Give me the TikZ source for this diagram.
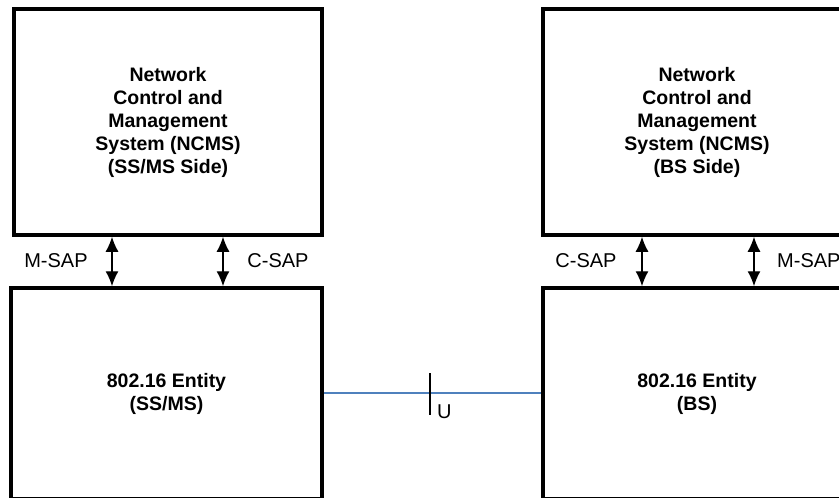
\documentclass[tikz,border=0pt]{standalone}
\usepackage{fontspec}
\setmainfont{Liberation Sans}
\usetikzlibrary{arrows.meta}

\definecolor{linkblue}{RGB}{79,129,189}

\begin{document}
\begin{tikzpicture}[x=1pt,y=-1pt,
    unit/.style={draw,line width=3.5pt,align=center,inner sep=0pt,
      font=\fontsize{19.5}{23}\selectfont\bfseries},
    sap/.style={line width=1.4pt,{Latex[length=15pt,width=13pt]}-{Latex[length=15pt,width=13pt]}},
    saplabel/.style={inner sep=0pt,font=\fontsize{20}{24}\selectfont}]
  \clip (0,0) rectangle (839,498);
  % NCMS boxes
  \node[unit,minimum width=308pt,minimum height=226pt] (ncmsL) at (168,122)
    {Network\\Control and\\Management\\System (NCMS)\\(SS/MS Side)};
  \node[unit,minimum width=308pt,minimum height=226pt] (ncmsR) at (697,122)
    {Network\\Control and\\Management\\System (NCMS)\\(BS Side)};
  % 802.16 entities
  \node[unit,minimum width=311pt,minimum height=211pt] (entL) at (166.5,393.5)
    {802.16 Entity\\(SS/MS)};
  \node[unit,minimum width=308pt,minimum height=211pt] (entR) at (697,393.5)
    {802.16 Entity\\(BS)};
  % service access points
  \node[saplabel] (msapL) at (56,261) {M-SAP};
  \node[saplabel] (csapL) at (278,261) {C-SAP};
  \node[saplabel] (csapR) at (586,261) {C-SAP};
  \node[saplabel,anchor=west] (msapR) at (777,261) {M-SAP};
  \coordinate (xmL) at (112,261);
  \coordinate (xcL) at (223,261);
  \coordinate (xcR) at (642,261);
  \coordinate (xmR) at (754,261);
  \draw[sap] (xmL |- ncmsL.south) -- (xmL |- entL.north);
  \draw[sap] (xcL |- ncmsL.south) -- (xcL |- entL.north);
  \draw[sap] (xcR |- ncmsR.south) -- (xcR |- entR.north);
  \draw[sap] (xmR |- ncmsR.south) -- (xmR |- entR.north);
  % U interface
  \draw[linkblue,line width=1.6pt] (entL.east |- 0,393) -- (entR.west |- 0,393);
  \coordinate (cutT) at (430,373);
  \coordinate (cutB) at (430,415);
  \draw[line width=1.4pt] (cutT) -- (cutB);
  \node[saplabel,anchor=west] (iface) at (437,412) {U};
\end{tikzpicture}
\end{document}
